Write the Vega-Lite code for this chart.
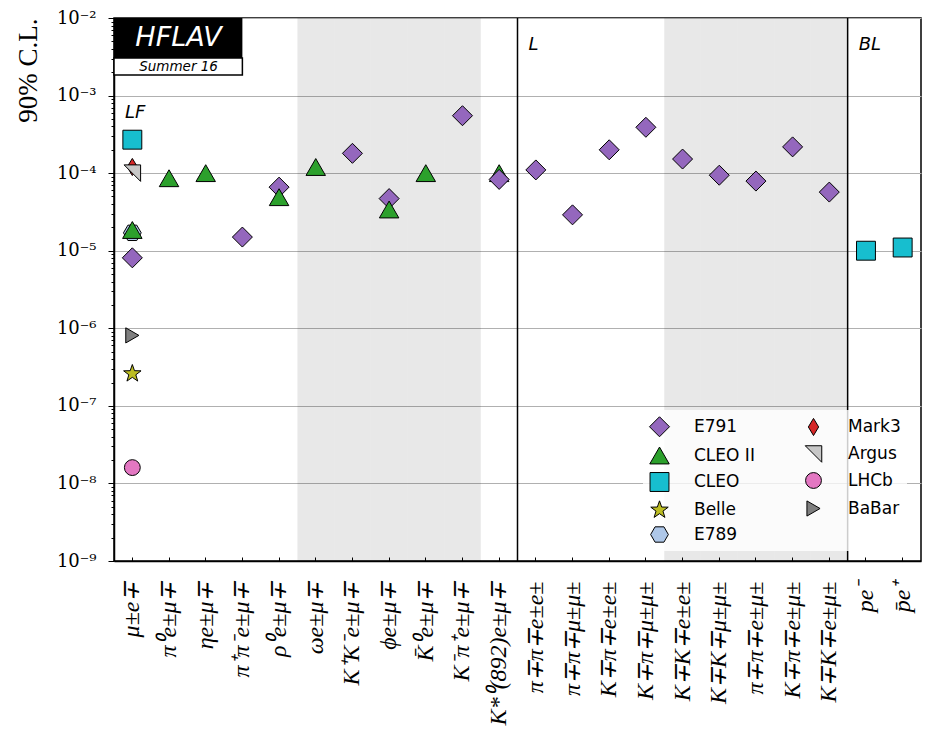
{
  "$schema": "https://vega.github.io/schema/vega-lite/v6.json",
  "width": 807,
  "height": 543,
  "autosize": "none",
  "padding": {"left": 114, "top": 18, "right": 4, "bottom": 178},
  "background": "white",
  "config": {
    "view": {"stroke": "black", "strokeWidth": 1.5},
    "axis": {"domainColor": "black", "tickColor": "black", "labelColor": "black", "titleColor": "black"}
  },
  "datasets": {
    "limits": [
      {"decay": "μ±e∓", "exp": "E789", "limit": 1.7e-5},
      {"decay": "μ±e∓", "exp": "CLEO II", "limit": 1.85e-5},
      {"decay": "μ±e∓", "exp": "E791", "limit": 8.1e-6},
      {"decay": "μ±e∓", "exp": "CLEO", "limit": 2.7e-4},
      {"decay": "μ±e∓", "exp": "Mark3", "limit": 1.2e-4},
      {"decay": "μ±e∓", "exp": "Argus", "limit": 1.0e-4},
      {"decay": "μ±e∓", "exp": "Belle", "limit": 2.6e-7},
      {"decay": "μ±e∓", "exp": "BaBar", "limit": 8.1e-7},
      {"decay": "μ±e∓", "exp": "LHCb", "limit": 1.6e-8},
      {"decay": "π⁰e±μ∓", "exp": "CLEO II", "limit": 8.6e-5},
      {"decay": "ηe±μ∓", "exp": "CLEO II", "limit": 1.0e-4},
      {"decay": "π⁺π⁻e±μ∓", "exp": "E791", "limit": 1.5e-5},
      {"decay": "ρ⁰e±μ∓", "exp": "E791", "limit": 6.6e-5},
      {"decay": "ρ⁰e±μ∓", "exp": "CLEO II", "limit": 4.9e-5},
      {"decay": "ωe±μ∓", "exp": "CLEO II", "limit": 1.2e-4},
      {"decay": "K⁺K⁻e±μ∓", "exp": "E791", "limit": 1.8e-4},
      {"decay": "ϕe±μ∓", "exp": "E791", "limit": 4.7e-5},
      {"decay": "ϕe±μ∓", "exp": "CLEO II", "limit": 3.4e-5},
      {"decay": "K̄⁰e±μ∓", "exp": "CLEO II", "limit": 1.0e-4},
      {"decay": "K⁻π⁺e±μ∓", "exp": "E791", "limit": 5.5e-4},
      {"decay": "K*⁰(892)e±μ∓", "exp": "CLEO II", "limit": 1.0e-4},
      {"decay": "K*⁰(892)e±μ∓", "exp": "E791", "limit": 8.3e-5},
      {"decay": "π∓π∓e±e±", "exp": "E791", "limit": 1.1e-4},
      {"decay": "π∓π∓μ±μ±", "exp": "E791", "limit": 2.9e-5},
      {"decay": "K∓π∓e±e±", "exp": "E791", "limit": 2.0e-4},
      {"decay": "K∓π∓μ±μ±", "exp": "E791", "limit": 3.9e-4},
      {"decay": "K∓K∓e±e±", "exp": "E791", "limit": 1.52e-4},
      {"decay": "K∓K∓μ±μ±", "exp": "E791", "limit": 9.4e-5},
      {"decay": "π∓π∓e±μ±", "exp": "E791", "limit": 7.9e-5},
      {"decay": "K∓π∓e±μ±", "exp": "E791", "limit": 2.18e-4},
      {"decay": "K∓K∓e±μ±", "exp": "E791", "limit": 5.7e-5},
      {"decay": "pe⁻", "exp": "CLEO", "limit": 1.0e-5},
      {"decay": "p̄e⁺", "exp": "CLEO", "limit": 1.1e-5}
    ],
    "shaded": [
      {"decay": "ωe±μ∓"}, {"decay": "K⁺K⁻e±μ∓"}, {"decay": "ϕe±μ∓"}, {"decay": "K̄⁰e±μ∓"}, {"decay": "K⁻π⁺e±μ∓"},
      {"decay": "K∓K∓e±e±"}, {"decay": "K∓K∓μ±μ±"}, {"decay": "π∓π∓e±μ±"}, {"decay": "K∓π∓e±μ±"}, {"decay": "K∓K∓e±μ±"}
    ],
    "dividers": [{"decay": "π∓π∓e±e±"}, {"decay": "pe⁻"}],
    "one": [{}]
  },
  "encoding": {
    "x": {
      "field": "decay",
      "type": "nominal",
      "title": null,
      "scale": {
        "type": "band",
        "paddingInner": 0,
        "paddingOuter": 0,
        "domain": ["μ±e∓", "π⁰e±μ∓", "ηe±μ∓", "π⁺π⁻e±μ∓", "ρ⁰e±μ∓", "ωe±μ∓", "K⁺K⁻e±μ∓", "ϕe±μ∓", "K̄⁰e±μ∓", "K⁻π⁺e±μ∓", "K*⁰(892)e±μ∓", "π∓π∓e±e±", "π∓π∓μ±μ±", "K∓π∓e±e±", "K∓π∓μ±μ±", "K∓K∓e±e±", "K∓K∓μ±μ±", "π∓π∓e±μ±", "K∓π∓e±μ±", "K∓K∓e±μ±", "pe⁻", "p̄e⁺"]
      },
      "axis": {
        "labelAngle": 270,
        "labelAlign": "right",
        "labelBaseline": "middle",
        "labelFont": "Liberation Serif",
        "labelFontStyle": "italic",
        "labelFontSize": 24,
        "labelPadding": 24,
        "tickSize": -4,
        "tickWidth": 1,
        "domainWidth": 1.5,
        "grid": false,
        "labelOverlap": false
      }
    }
  },
  "layer": [
    {
      "data": {"name": "shaded"},
      "mark": {"type": "rect", "fill": "black", "opacity": 0.09}
    },
    {
      "data": {"name": "dividers"},
      "mark": {"type": "rule", "color": "black", "strokeWidth": 1.5},
      "encoding": {"x": {"field": "decay", "type": "nominal", "bandPosition": 0}}
    },
    {
      "data": {"name": "limits"},
      "mark": {"type": "point", "filled": true, "opacity": 1, "stroke": "black", "strokeWidth": 1},
      "encoding": {
        "y": {
          "field": "limit",
          "type": "quantitative",
          "scale": {"type": "log", "domain": [1e-9, 1e-2], "nice": false},
          "axis": {
            "title": "90% C.L.",
            "titleFont": "Liberation Serif",
            "titleFontSize": 27,
            "titleFontWeight": "normal",
            "titleAnchor": "end",
            "titlePadding": 14,
            "values": [1e-9, 2e-9, 3e-9, 4e-9, 5e-9, 6e-9, 7e-9, 8e-9, 9e-9,
                       1e-8, 2e-8, 3e-8, 4e-8, 5e-8, 6e-8, 7e-8, 8e-8, 9e-8,
                       1e-7, 2e-7, 3e-7, 4e-7, 5e-7, 6e-7, 7e-7, 8e-7, 9e-7,
                       1e-6, 2e-6, 3e-6, 4e-6, 5e-6, 6e-6, 7e-6, 8e-6, 9e-6,
                       1e-5, 2e-5, 3e-5, 4e-5, 5e-5, 6e-5, 7e-5, 8e-5, 9e-5,
                       1e-4, 2e-4, 3e-4, 4e-4, 5e-4, 6e-4, 7e-4, 8e-4, 9e-4,
                       1e-3, 2e-3, 3e-3, 4e-3, 5e-3, 6e-3, 7e-3, 8e-3, 9e-3, 1e-2],
            "labelExpr": "abs(log(datum.value)/LN10 - round(log(datum.value)/LN10)) < 0.01 ? '10⁻' + ['⁰','¹','²','³','⁴','⁵','⁶','⁷','⁸','⁹'][-round(log(datum.value)/LN10)] : ''",
            "labelFont": "DejaVu Serif",
            "labelFontSize": 18,
            "labelPadding": 12,
            "labelOverlap": false,
            "labelBaseline": "middle",
            "tickSize": {"condition": {"test": "abs(log(datum.value)/LN10 - round(log(datum.value)/LN10)) < 0.01", "value": 6}, "value": 3},
            "tickWidth": 1,
            "domainWidth": 1.5,
            "grid": true,
            "gridColor": "#b0b0b0",
            "gridWidth": 1.2,
            "gridOpacity": {"condition": {"test": "abs(log(datum.value)/LN10 - round(log(datum.value)/LN10)) < 0.01", "value": 1}, "value": 0}
          }
        },
        "fill": {
          "field": "exp",
          "type": "nominal",
          "scale": {
            "domain": ["E791", "CLEO II", "CLEO", "Belle", "E789", "Mark3", "Argus", "LHCb", "BaBar"],
            "range": ["#9467bd", "#2ca02c", "#17becf", "#bcbd22", "#aec7e8", "#d62728", "#c7c7c7", "#e377c2", "#7f7f7f"]
          },
          "legend": {
            "title": null,
            "orient": "none",
            "legendX": 529,
            "legendY": 392,
            "columns": 2,
            "columnPadding": 48,
            "rowPadding": 4,
            "labelOffset": 24,
            "padding": 6,
            "fillColor": "rgba(255,255,255,0.8)",
            "labelFont": "DejaVu Sans",
            "labelFontSize": 17,
            "labelColor": "black",
            "symbolStrokeColor": "black",
            "symbolStrokeWidth": 1,
            "symbolOpacity": 1
          }
        },
        "shape": {
          "field": "exp",
          "type": "nominal",
          "scale": {
            "domain": ["E791", "CLEO II", "CLEO", "Belle", "E789", "Mark3", "Argus", "LHCb", "BaBar"],
            "range": ["diamond", "triangle-up", "square", "M0,-1L0.235,-0.324L0.951,-0.309L0.38,0.124L0.588,0.809L0,0.4L-0.588,0.809L-0.38,0.124L-0.951,-0.309L-0.235,-0.324Z", "M-1,0L-0.5,-0.866L0.5,-0.866L1,0L0.5,0.866L-0.5,0.866Z", "M0,-1L0.6,0L0,1L-0.6,0Z", "M-1,-1L1,-1L1,1Z", "circle", "triangle-right"]
          }
        },
        "size": {
          "field": "exp",
          "type": "nominal",
          "scale": {
            "domain": ["E791", "CLEO II", "CLEO", "Belle", "E789", "Mark3", "Argus", "LHCb", "BaBar"],
            "range": [400, 230, 196, 130, 200, 324, 150, 196, 250]
          }
        }
      }
    },
    {
      "data": {"name": "one"},
      "mark": {"type": "rect", "fill": "black"},
      "encoding": {
        "x": {"datum": "μ±e∓", "bandPosition": 0},
        "x2": {"datum": "π⁺π⁻e±μ∓", "bandPosition": 0.5},
        "y": {"datum": 0.01, "type": "quantitative"},
        "y2": {"datum": 0.00305}
      }
    },
    {
      "data": {"name": "one"},
      "mark": {"type": "rect", "fill": "white", "stroke": "black", "strokeWidth": 1.5},
      "encoding": {
        "x": {"datum": "μ±e∓", "bandPosition": 0},
        "x2": {"datum": "π⁺π⁻e±μ∓", "bandPosition": 0.5},
        "y": {"datum": 0.00305, "type": "quantitative"},
        "y2": {"datum": 0.00184}
      }
    },
    {
      "data": {"name": "one"},
      "mark": {"type": "text", "text": "HFLAV", "font": "DejaVu Sans", "fontStyle": "italic", "fontSize": 27, "color": "white", "align": "center", "baseline": "middle"},
      "encoding": {
        "x": {"datum": "π⁰e±μ∓", "bandPosition": 0.76},
        "y": {"datum": 0.0055, "type": "quantitative"}
      }
    },
    {
      "data": {"name": "one"},
      "mark": {"type": "text", "text": "Summer 16", "font": "DejaVu Sans", "fontStyle": "italic", "fontSize": 13.5, "color": "black", "align": "center", "baseline": "middle"},
      "encoding": {
        "x": {"datum": "π⁰e±μ∓", "bandPosition": 0.76},
        "y": {"datum": 0.00237, "type": "quantitative"}
      }
    },
    {
      "data": {"name": "one"},
      "mark": {"type": "text", "text": "LF", "font": "DejaVu Sans", "fontStyle": "italic", "fontSize": 18, "color": "black", "align": "left", "baseline": "middle", "dx": 11},
      "encoding": {
        "x": {"datum": "μ±e∓", "bandPosition": 0},
        "y": {"datum": 0.0006, "type": "quantitative"}
      }
    },
    {
      "data": {"name": "one"},
      "mark": {"type": "text", "text": "L", "font": "DejaVu Sans", "fontStyle": "italic", "fontSize": 18, "color": "black", "align": "left", "baseline": "middle", "dx": 11},
      "encoding": {
        "x": {"datum": "π∓π∓e±e±", "bandPosition": 0},
        "y": {"datum": 0.0045, "type": "quantitative"}
      }
    },
    {
      "data": {"name": "one"},
      "mark": {"type": "text", "text": "BL", "font": "DejaVu Sans", "fontStyle": "italic", "fontSize": 18, "color": "black", "align": "left", "baseline": "middle", "dx": 11},
      "encoding": {
        "x": {"datum": "pe⁻", "bandPosition": 0},
        "y": {"datum": 0.0045, "type": "quantitative"}
      }
    }
  ]
}
